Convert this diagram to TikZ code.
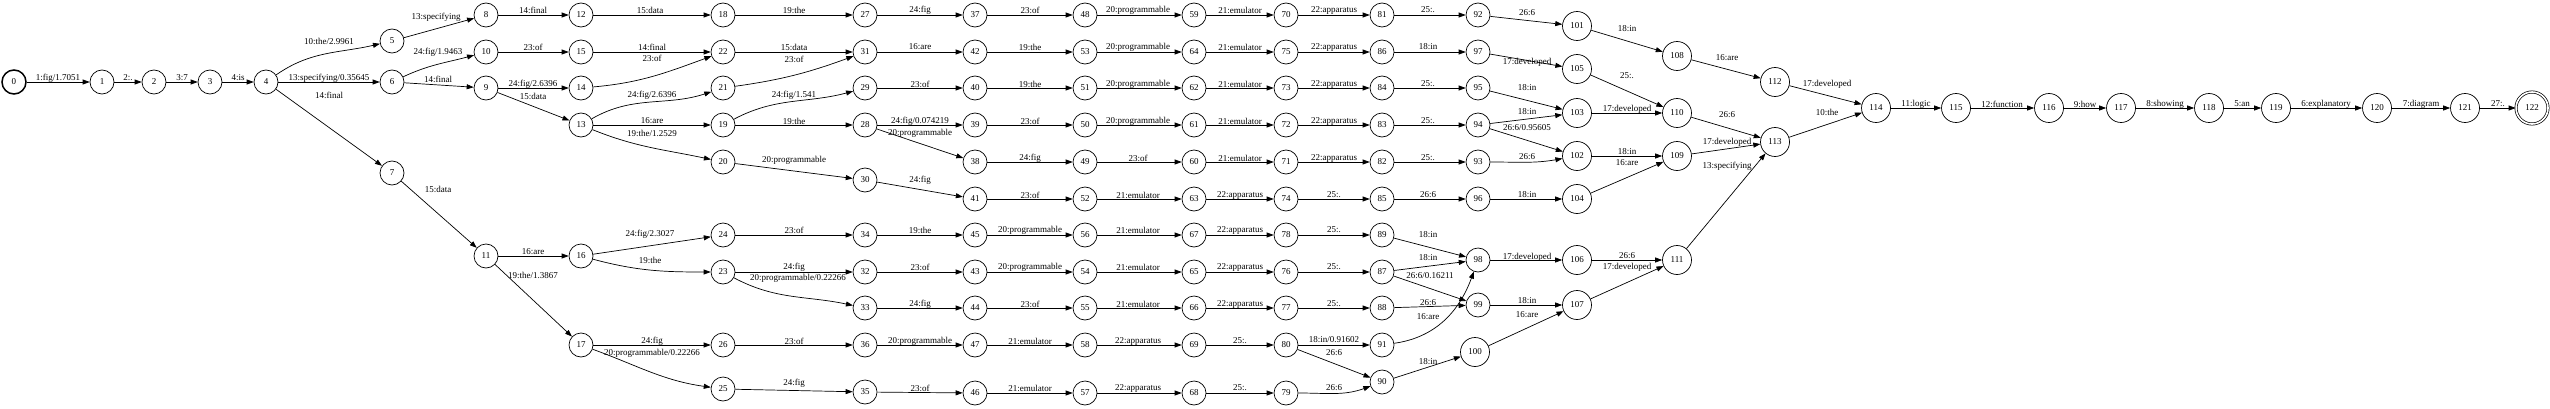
\documentclass[tikz,border=0pt]{standalone}
\usepackage{fontspec}
\setmainfont{Liberation Serif}
\usetikzlibrary{arrows.meta}
\tikzset{
 st/.style={circle, draw, line width=0.7pt, minimum size=24pt, inner sep=0pt, font=\fontsize{9}{10}\selectfont},
 stw/.style={st, minimum size=29pt},
 ini/.style={line width=1.5pt},
 fin/.style={st, minimum size=32pt, double, double distance=1.6pt, line width=0.7pt},
 ed/.style={-{Triangle[length=7pt,width=5pt]}, line width=0.7pt},
 lbl/.style={inner sep=0pt, font=\fontsize{9}{10}\selectfont}
}
\newcommand{\fe}[5]{\draw[ed] (n#1) #5 (n#2); \node[lbl] (l#1-#2) at (#3) {#4};}
\begin{document}
\begin{tikzpicture}[x=1pt,y=1pt]
\useasboundingbox (0,0) rectangle (2550,408);
% nodes
\node[st,ini] (n0) at (14,326) {0};
\node[st] (n1) at (102,326) {1};
\node[st] (n2) at (154,326) {2};
\node[st] (n3) at (210,326) {3};
\node[st] (n4) at (266,326) {4};
\node[st] (n5) at (392,367) {5};
\node[st] (n6) at (392,326) {6};
\node[st] (n7) at (392,235) {7};
\node[st] (n8) at (486,393) {8};
\node[st] (n10) at (486,356) {10};
\node[st] (n9) at (486,320) {9};
\node[st] (n11) at (486,152) {11};
\node[st] (n12) at (581,393) {12};
\node[st] (n15) at (581,356) {15};
\node[st] (n14) at (581,320) {14};
\node[st] (n13) at (581,283) {13};
\node[st] (n16) at (581,152) {16};
\node[st] (n17) at (581,63) {17};
\node[st] (n18) at (723,393) {18};
\node[st] (n22) at (723,356) {22};
\node[st] (n21) at (723,320) {21};
\node[st] (n19) at (723,283) {19};
\node[st] (n20) at (723,246) {20};
\node[st] (n24) at (723,173) {24};
\node[st] (n23) at (723,136) {23};
\node[st] (n26) at (723,63) {26};
\node[st] (n25) at (723,19) {25};
\node[st] (n27) at (865,393) {27};
\node[st] (n31) at (865,356) {31};
\node[st] (n29) at (865,320) {29};
\node[st] (n28) at (865,283) {28};
\node[st] (n30) at (865,228) {30};
\node[st] (n34) at (865,173) {34};
\node[st] (n32) at (865,136) {32};
\node[st] (n33) at (865,100) {33};
\node[st] (n36) at (865,63) {36};
\node[st] (n35) at (865,16) {35};
\node[st] (n37) at (975,393) {37};
\node[st] (n42) at (975,356) {42};
\node[st] (n40) at (975,320) {40};
\node[st] (n39) at (975,283) {39};
\node[st] (n38) at (975,246) {38};
\node[st] (n41) at (975,209) {41};
\node[st] (n45) at (975,173) {45};
\node[st] (n43) at (975,136) {43};
\node[st] (n44) at (975,100) {44};
\node[st] (n47) at (975,63) {47};
\node[st] (n46) at (975,15) {46};
\node[st] (n48) at (1085,393) {48};
\node[st] (n53) at (1085,356) {53};
\node[st] (n51) at (1085,320) {51};
\node[st] (n50) at (1085,283) {50};
\node[st] (n49) at (1085,246) {49};
\node[st] (n52) at (1085,209) {52};
\node[st] (n56) at (1085,173) {56};
\node[st] (n54) at (1085,136) {54};
\node[st] (n55) at (1085,100) {55};
\node[st] (n58) at (1085,63) {58};
\node[st] (n57) at (1085,15) {57};
\node[st] (n59) at (1194,393) {59};
\node[st] (n64) at (1194,356) {64};
\node[st] (n62) at (1194,320) {62};
\node[st] (n61) at (1194,283) {61};
\node[st] (n60) at (1194,246) {60};
\node[st] (n63) at (1194,209) {63};
\node[st] (n67) at (1194,173) {67};
\node[st] (n65) at (1194,136) {65};
\node[st] (n66) at (1194,100) {66};
\node[st] (n69) at (1194,63) {69};
\node[st] (n68) at (1194,15) {68};
\node[st] (n70) at (1286,393) {70};
\node[st] (n75) at (1286,356) {75};
\node[st] (n73) at (1286,320) {73};
\node[st] (n72) at (1286,283) {72};
\node[st] (n71) at (1286,246) {71};
\node[st] (n74) at (1286,209) {74};
\node[st] (n78) at (1286,173) {78};
\node[st] (n76) at (1286,136) {76};
\node[st] (n77) at (1286,100) {77};
\node[st] (n80) at (1286,63) {80};
\node[st] (n79) at (1286,15) {79};
\node[st] (n81) at (1382,393) {81};
\node[st] (n86) at (1382,356) {86};
\node[st] (n84) at (1382,320) {84};
\node[st] (n83) at (1382,283) {83};
\node[st] (n82) at (1382,246) {82};
\node[st] (n85) at (1382,209) {85};
\node[st] (n89) at (1382,173) {89};
\node[st] (n87) at (1382,136) {87};
\node[st] (n88) at (1382,100) {88};
\node[st] (n91) at (1382,63) {91};
\node[st] (n90) at (1382,26) {90};
\node[st] (n92) at (1478,393) {92};
\node[st] (n97) at (1478,356) {97};
\node[st] (n95) at (1478,320) {95};
\node[st] (n94) at (1478,283) {94};
\node[st] (n93) at (1478,246) {93};
\node[st] (n96) at (1478,209) {96};
\node[st] (n98) at (1478,148) {98};
\node[st] (n99) at (1478,103) {99};
\node[stw] (n100) at (1475,56) {100};
\node[stw] (n101) at (1577,382) {101};
\node[stw] (n105) at (1577,339) {105};
\node[stw] (n103) at (1577,295) {103};
\node[stw] (n102) at (1577,252) {102};
\node[stw] (n104) at (1577,209) {104};
\node[stw] (n106) at (1577,148) {106};
\node[stw] (n107) at (1577,103) {107};
\node[stw] (n108) at (1677,352) {108};
\node[stw] (n110) at (1677,295) {110};
\node[stw] (n109) at (1677,252) {109};
\node[stw] (n111) at (1677,148) {111};
\node[stw] (n112) at (1775,326) {112};
\node[stw] (n113) at (1775,266) {113};
\node[stw] (n114) at (1876,300) {114};
\node[stw] (n115) at (1956,300) {115};
\node[stw] (n116) at (2049,300) {116};
\node[stw] (n117) at (2121,300) {117};
\node[stw] (n118) at (2209,300) {118};
\node[stw] (n119) at (2276,300) {119};
\node[stw] (n120) at (2377,300) {120};
\node[stw] (n121) at (2465,300) {121};
\node[fin] (n122) at (2532,300) {122};
% edges
\fe{0}{1}{58,330}{1:fig/1.7051}{--}
\fe{1}{2}{128,330}{2:.}{--}
\fe{2}{3}{182,330}{3:7}{--}
\fe{3}{4}{238,330}{4:is}{--}
\fe{4}{5}{329,367}{10:the/2.9961}{to[out=35,in=193]}
\fe{4}{6}{329,330}{13:specifying/0.35645}{--}
\fe{4}{7}{329,313}{14:final}{--}
\fe{5}{8}{436,391}{13:specifying}{--}
\fe{6}{10}{438,356}{24:fig/1.9463}{to[out=25,in=195]}
\fe{6}{9}{438,329}{14:final}{--}
\fe{7}{11}{438,219}{15:data}{--}
\fe{8}{12}{533,398}{14:final}{--}
\fe{10}{15}{533,361}{23:of}{--}
\fe{9}{14}{533,324}{24:fig/2.6396}{--}
\fe{9}{13}{533,312}{15:data}{--}
\fe{11}{16}{533,156}{16:are}{--}
\fe{11}{17}{533,133}{19:the/1.3867}{--}
\fe{12}{18}{650,398}{15:data}{--}
\fe{15}{22}{652,361}{14:final}{--}
\fe{14}{22}{652,350}{23:of}{to[out=5,in=200]}
\fe{13}{21}{652,313}{24:fig/2.6396}{to[out=30,in=198]}
\fe{13}{19}{652,287}{16:are}{--}
\fe{13}{20}{652,275}{19:the/1.2529}{to[out=-22,in=168]}
\fe{16}{24}{650,174}{24:fig/2.3027}{--}
\fe{16}{23}{650,148}{19:the}{to[out=-15,in=180]}
\fe{17}{26}{652,67}{24:fig}{--}
\fe{17}{25}{652,55}{20:programmable/0.22266}{to[out=-20,in=172]}
\fe{18}{27}{794,398}{19:the}{--}
\fe{22}{31}{794,361}{15:data}{--}
\fe{21}{31}{794,349}{23:of}{to[out=8,in=200]}
\fe{19}{29}{794,313}{24:fig/1.541}{to[out=28,in=195]}
\fe{19}{28}{794,287}{19:the}{--}
\fe{20}{30}{794,248}{20:programmable}{--}
\fe{24}{34}{794,178}{23:of}{--}
\fe{23}{32}{794,141}{24:fig}{--}
\fe{23}{33}{798,130}{20:programmable/0.22266}{to[out=-28,in=168]}
\fe{26}{36}{794,67}{23:of}{--}
\fe{25}{35}{794,25}{24:fig}{--}
\fe{27}{37}{920,398}{24:fig}{--}
\fe{31}{42}{920,361}{16:are}{--}
\fe{29}{40}{920,324}{23:of}{--}
\fe{28}{39}{920,287}{24:fig/0.074219}{--}
\fe{28}{38}{920,275}{20:programmable}{--}
\fe{30}{41}{920,228}{24:fig}{--}
\fe{34}{45}{920,178}{19:the}{--}
\fe{32}{43}{920,141}{23:of}{--}
\fe{33}{44}{920,104}{24:fig}{--}
\fe{36}{47}{920,67}{20:programmable}{--}
\fe{35}{46}{920,20}{23:of}{--}
\fe{37}{48}{1030,398}{23:of}{--}
\fe{42}{53}{1030,361}{19:the}{--}
\fe{40}{51}{1030,324}{19:the}{--}
\fe{39}{50}{1030,287}{23:of}{--}
\fe{38}{49}{1030,250}{24:fig}{--}
\fe{41}{52}{1030,213}{23:of}{--}
\fe{45}{56}{1030,178}{20:programmable}{--}
\fe{43}{54}{1030,141}{20:programmable}{--}
\fe{44}{55}{1030,104}{23:of}{--}
\fe{47}{58}{1030,67}{21:emulator}{--}
\fe{46}{57}{1030,20}{21:emulator}{--}
\fe{48}{59}{1138,398}{20:programmable}{--}
\fe{53}{64}{1138,361}{20:programmable}{--}
\fe{51}{62}{1138,324}{20:programmable}{--}
\fe{50}{61}{1138,287}{20:programmable}{--}
\fe{49}{60}{1138,250}{23:of}{--}
\fe{52}{63}{1138,213}{21:emulator}{--}
\fe{56}{67}{1138,178}{21:emulator}{--}
\fe{54}{65}{1138,141}{21:emulator}{--}
\fe{55}{66}{1138,104}{21:emulator}{--}
\fe{58}{69}{1138,67}{22:apparatus}{--}
\fe{57}{68}{1138,20}{22:apparatus}{--}
\fe{59}{70}{1240,398}{21:emulator}{--}
\fe{64}{75}{1240,361}{21:emulator}{--}
\fe{62}{73}{1240,324}{21:emulator}{--}
\fe{61}{72}{1240,287}{21:emulator}{--}
\fe{60}{71}{1240,250}{21:emulator}{--}
\fe{63}{74}{1240,213}{22:apparatus}{--}
\fe{67}{78}{1240,178}{22:apparatus}{--}
\fe{65}{76}{1240,141}{22:apparatus}{--}
\fe{66}{77}{1240,104}{22:apparatus}{--}
\fe{69}{80}{1240,67}{25:.}{--}
\fe{68}{79}{1240,20}{25:.}{--}
\fe{70}{81}{1334,398}{22:apparatus}{--}
\fe{75}{86}{1334,361}{22:apparatus}{--}
\fe{73}{84}{1334,324}{22:apparatus}{--}
\fe{72}{83}{1334,287}{22:apparatus}{--}
\fe{71}{82}{1334,250}{22:apparatus}{--}
\fe{74}{85}{1334,213}{25:.}{--}
\fe{78}{89}{1334,178}{25:.}{--}
\fe{76}{87}{1334,141}{25:.}{--}
\fe{77}{88}{1334,104}{25:.}{--}
\fe{80}{91}{1334,68}{18:in/0.91602}{--}
\fe{80}{90}{1334,55}{26:6}{--}
\fe{79}{90}{1334,20}{26:6}{to[out=0,in=200]}
\fe{81}{92}{1428,398}{25:.}{--}
\fe{86}{97}{1428,361}{18:in}{--}
\fe{84}{95}{1428,324}{25:.}{--}
\fe{83}{94}{1428,287}{25:.}{--}
\fe{82}{93}{1428,250}{25:.}{--}
\fe{85}{96}{1428,213}{26:6}{--}
\fe{89}{98}{1428,173}{18:in}{--}
\fe{87}{98}{1428,150}{18:in}{--}
\fe{87}{99}{1430,132}{26:6/0.16211}{--}
\fe{88}{99}{1428,105}{26:6}{--}
\fe{91}{98}{1428,91}{16:are}{to[out=8,in=250]}
\fe{90}{100}{1428,46}{18:in}{--}
\fe{92}{101}{1527,395}{26:6}{--}
\fe{97}{105}{1527,346}{17:developed}{--}
\fe{95}{103}{1527,320}{18:in}{--}
\fe{94}{103}{1527,296}{18:in}{--}
\fe{94}{102}{1527,280}{26:6/0.95605}{--}
\fe{93}{102}{1527,251}{26:6}{to[out=0,in=190]}
\fe{96}{104}{1527,213}{18:in}{--}
\fe{98}{106}{1527,151}{17:developed}{--}
\fe{99}{107}{1527,107}{18:in}{--}
\fe{100}{107}{1527,93}{16:are}{--}
\fe{101}{108}{1627,379}{18:in}{--}
\fe{105}{110}{1627,332}{25:.}{--}
\fe{103}{110}{1627,299}{17:developed}{--}
\fe{102}{109}{1627,256}{18:in}{--}
\fe{104}{109}{1627,245}{16:are}{--}
\fe{106}{111}{1627,152}{26:6}{--}
\fe{107}{111}{1627,141}{17:developed}{--}
\fe{108}{112}{1727,350}{16:are}{--}
\fe{110}{113}{1727,293}{26:6}{--}
\fe{109}{113}{1727,266}{17:developed}{--}
\fe{111}{113}{1727,242}{13:specifying}{--}
\fe{112}{114}{1827,324}{17:developed}{--}
\fe{113}{114}{1827,296}{10:the}{--}
\fe{114}{115}{1916,304}{11:logic}{--}
\fe{115}{116}{2002,304}{12:function}{--}
\fe{116}{117}{2085,304}{9:how}{--}
\fe{117}{118}{2165,304}{8:showing}{--}
\fe{118}{119}{2242,304}{5:an}{--}
\fe{119}{120}{2326,304}{6:explanatory}{--}
\fe{120}{121}{2421,304}{7:diagram}{--}
\fe{121}{122}{2498,304}{27:.}{--}
\end{tikzpicture}
\end{document}
